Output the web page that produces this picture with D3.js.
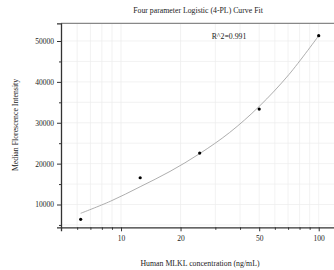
<!DOCTYPE html>
<html>
<head>
<meta charset="utf-8">
<script src="https://cdn.jsdelivr.net/npm/d3@7"></script>
<style>
  body { margin: 0; background: #fff; }
  text { font-family: 'Liberation Serif', 'DejaVu Serif', serif; fill: #222; }
</style>
</head>
<body>
<div id="chart"></div>
<script>
// standard concentrations (ng/mL) and measured MFI
const concentrations = [6.25, 12.5, 25, 50, 100]
const mfi = [6380, 16550, 22590, 33350, 51300]

// fitted 4-PL curve
const curveX = [6.25, 8.84, 12.5, 17.7, 25, 35.4, 50, 70.7, 100]
const curveY = [7850, 10800, 14350, 18100, 22450, 27600, 34000, 41800, 51300]

const yMajor = [10000, 20000, 30000, 40000, 50000]
const yMinor = [5000, 15000, 25000, 35000, 45000]
const xMajor = [10, 20, 50, 100]
const xMinor = [6, 7, 8, 9, 30, 40, 60, 70, 80, 90]

const rSquared = 'R^2=0.991'

const width = 334
const height = 270

const svg = d3
  .select('#chart')
  .append('svg')
  .attr('width', width)
  .attr('height', height)

const x = d3.scaleLog().domain([4.97, 120.9]).range([61, 335])
const y = d3.scaleLinear().domain([4425, 54330]).range([227.3, 23.3])

// grid
svg.append('g')
  .selectAll('line')
  .data(xMajor.concat(xMinor))
  .enter()
  .append('line')
  .attr('x1', d => x(d))
  .attr('x2', d => x(d))
  .attr('y1', y.range()[0])
  .attr('y2', y.range()[1])
  .attr('stroke', '#ececec')
  .attr('stroke-width', 0.7)

svg.append('g')
  .selectAll('line')
  .data(yMajor.concat(yMinor))
  .enter()
  .append('line')
  .attr('x1', x.range()[0])
  .attr('x2', x.range()[1])
  .attr('y1', d => y(d))
  .attr('y2', d => y(d))
  .attr('stroke', '#ececec')
  .attr('stroke-width', 0.7)

// top border
svg.append('line')
  .attr('x1', x.range()[0])
  .attr('x2', x.range()[1])
  .attr('y1', y.range()[1])
  .attr('y2', y.range()[1])
  .attr('stroke', '#888')
  .attr('stroke-width', 1.2)

// axes
const yAxis = svg.append('g')
  .attr('transform', `translate(${x.range()[0]},0)`)
  .call(d3.axisLeft(y).tickValues(yMajor).tickSize(4).tickPadding(3).tickFormat(d3.format('d')))
yAxis.append('g')
  .call(d3.axisLeft(y).tickValues(yMinor).tickSize(2).tickFormat(''))
  .select('.domain').remove()

const xAxis = svg.append('g')
  .attr('transform', `translate(0,${y.range()[0]})`)
  .call(d3.axisBottom(x).tickValues(xMajor).tickSize(4).tickPadding(4).tickFormat(d3.format('d')))
xAxis.append('g')
  .call(d3.axisBottom(x).tickValues(xMinor).tickSize(2.5).tickFormat(''))
  .select('.domain').remove()

svg.selectAll('.domain').attr('stroke', '#333').attr('stroke-width', 1.3)
svg.selectAll('.tick line').attr('stroke', '#333')
svg.selectAll('.tick text')
  .attr('font-family', "'Liberation Serif', serif")
  .attr('font-size', 7.5)
  .attr('fill', '#333')

// fitted curve
const line = d3.line()
  .x(d => x(d[0]))
  .y(d => y(d[1]))
  .curve(d3.curveCatmullRom)

svg.append('path')
  .datum(d3.zip(curveX, curveY))
  .attr('d', line)
  .attr('fill', 'none')
  .attr('stroke', '#999')
  .attr('stroke-width', 0.8)

// points
svg.selectAll('.pt')
  .data(d3.zip(concentrations, mfi))
  .enter()
  .append('circle')
  .attr('class', 'pt')
  .attr('cx', d => x(d[0]))
  .attr('cy', d => y(d[1]))
  .attr('r', 1.6)
  .attr('fill', '#000')

// labels
svg.append('text')
  .text('Four parameter Logistic (4-PL) Curve Fit')
  .attr('x', 198)
  .attr('y', 13)
  .attr('text-anchor', 'middle')
  .attr('font-size', 7.8)

svg.append('text')
  .text(rSquared)
  .attr('x', 229)
  .attr('y', 39)
  .attr('text-anchor', 'middle')
  .attr('font-size', 7.8)

svg.append('text')
  .text('Human MLKL concentration (ng/mL)')
  .attr('x', 200)
  .attr('y', 266)
  .attr('text-anchor', 'middle')
  .attr('font-size', 7.8)

svg.append('text')
  .text('Median Florescence Intensity')
  .attr('transform', 'translate(18,125) rotate(-90)')
  .attr('text-anchor', 'middle')
  .attr('font-size', 7.8)
</script>
</body>
</html>
